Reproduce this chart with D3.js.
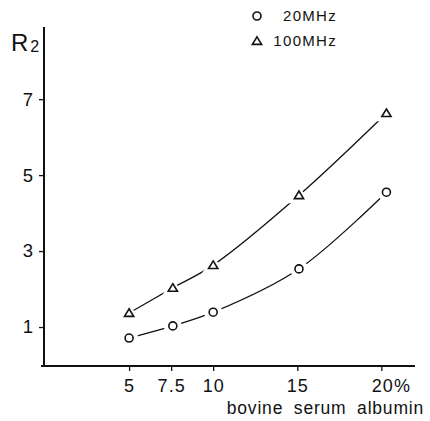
<!DOCTYPE html>
<html>
<head>
<meta charset="utf-8">
<script src="https://cdn.jsdelivr.net/npm/d3@7"></script>
<style>
  body { margin: 0; background: #fff; }
  svg text { font-family: "Liberation Sans", Arial, sans-serif; fill: #111; }
</style>
</head>
<body>
<svg id="chart" width="430" height="421"></svg>
<script>
// data
const concentration = [5, 7.5, 10, 15, 20]          // % bovine serum albumin
const pointX        = [5, 7.6, 10, 15.1, 20.3]      // where the marks sit
const r2_20MHz      = [0.71, 1.03, 1.39, 2.53, 4.55]
const r2_100MHz     = [1.37, 2.03, 2.63, 4.47, 6.63]
const yTicks        = [1, 3, 5, 7]

const svg = d3.select("#chart")

const x = d3.scaleLinear().domain([0, 22]).range([45, 415])
const y = d3.scaleLinear().domain([0, 8.9]).range([365, 27])

// axes
const xAxis = d3.axisBottom(x)
  .tickValues(concentration)
  .tickSize(5).tickSizeOuter(0).tickPadding(8)
  .tickFormat(d => d === 20 ? "20%" : d)

const gx = svg.append("g").attr("transform", "translate(0,366)").call(xAxis)
gx.select(".domain").attr("d", "M41,0H415").attr("stroke", "#111").attr("stroke-width", 2)
gx.selectAll(".tick line").attr("stroke", "#111").attr("stroke-width", 1.3)
gx.selectAll("text").attr("font-size", 18).attr("letter-spacing", 1)
gx.selectAll("text").filter(d => d === 20).attr("text-anchor", "start").attr("dx", -10)

const yAxis = d3.axisLeft(y)
  .tickValues(yTicks)
  .tickSize(5).tickSizeOuter(0).tickPadding(6)

const gy = svg.append("g").attr("transform", "translate(44,0)").call(yAxis)
gy.select(".domain").attr("d", `M0,${y(0)}V${y(8.9)}`).attr("stroke", "#111").attr("stroke-width", 2)
gy.selectAll(".tick line").attr("stroke", "#111").attr("stroke-width", 1.3)
gy.selectAll("text").attr("font-size", 18.5)

// axis titles
const rt = svg.append("text").attr("x", 11).attr("y", 51).attr("font-size", 24)
rt.append("tspan").text("R")
rt.append("tspan").attr("font-size", 16).attr("dx", 2).attr("dy", 1).text("2")

svg.append("text")
  .attr("x", 424).attr("y", 414)
  .attr("text-anchor", "end")
  .attr("font-size", 17.5)
  .attr("letter-spacing", 0.8)
  .attr("word-spacing", 5)
  .text("bovine serum albumin")

// curves
const line = d3.line()
  .x(d => x(d[0]))
  .y(d => y(d[1]))
  .curve(d3.curveCatmullRom.alpha(0.5))

const series = [
  { name: "20MHz",  values: r2_20MHz,  shape: "circle" },
  { name: "100MHz", values: r2_100MHz, shape: "triangle" }
]

const triPath = s => `M0,${-s}L${s * 1.1},${s * 0.8}L${-s * 1.1},${s * 0.8}Z`

function marker(g, shape, halo) {
  if (shape === "circle") {
    g.append("circle").attr("r", halo ? 9 : 4)
  } else {
    g.append("path").attr("d", halo ? triPath(10) : triPath(4.2))
  }
  g.selectAll("*")
    .attr("fill", "#fff")
    .attr("stroke", halo ? "none" : "#111")
    .attr("stroke-width", 1.6)
}

series.forEach(s => {
  const pts = s.values.map((v, i) => [pointX[i], v])
  svg.append("path")
    .datum(pts)
    .attr("fill", "none")
    .attr("stroke", "#111")
    .attr("stroke-width", 1.3)
    .attr("d", line)

  pts.forEach(p => {
    const g = svg.append("g").attr("transform", `translate(${x(p[0])},${y(p[1])})`)
    marker(g.append("g"), s.shape, true)
    marker(g.append("g"), s.shape, false)
  })
})

// legend
series.forEach((s, i) => {
  const g = svg.append("g").attr("transform", `translate(257,${16 + i * 25})`)
  marker(g.append("g"), s.shape, false)
  svg.append("text")
    .attr("x", 337).attr("y", 21 + i * 25)
    .attr("text-anchor", "end")
    .attr("font-size", 15)
    .attr("letter-spacing", 1.3)
    .text(s.name)
})
</script>
</body>
</html>
